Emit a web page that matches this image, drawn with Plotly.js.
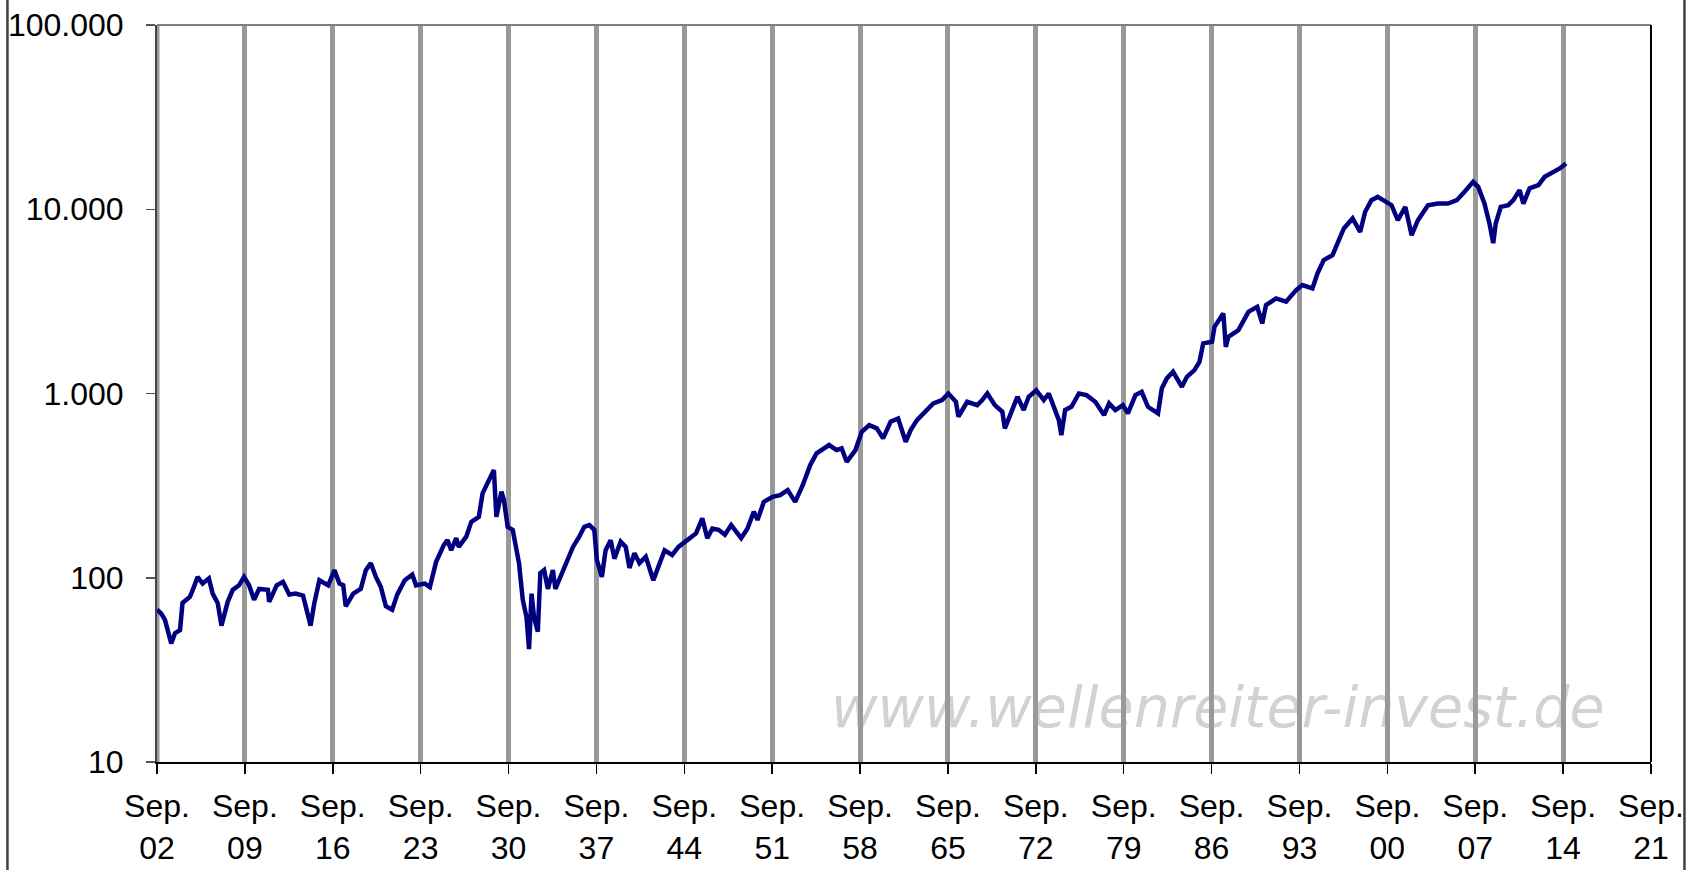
<!DOCTYPE html>
<html>
<head>
<meta charset="utf-8">
<script src="https://cdn.plot.ly/plotly-3.0.1.min.js"></script>
<style>
  html, body { margin: 0; padding: 0; background: #fff; }
  #chart { width: 1695px; height: 870px; }
</style>
</head>
<body>
<div id="chart"></div>
<script>
// Decimal years and index values
const years = [
  1902.67,1903.0,1903.3,1903.7,1903.8,1904.1,1904.5,1904.7,1905.3,1905.6,1905.9,1906.3,1906.8,1907.1,1907.5,1907.8,
  1908.0,1908.3,1908.7,1909.2,1909.6,1910.0,1910.4,1910.8,1911.5,1911.6,1912.2,1912.7,1913.2,1913.7,1914.3,1914.9,
  1915.2,1915.6,1916.3,1916.8,1917.2,1917.5,1917.7,1918.3,1918.9,1919.3,1919.7,1920.1,1920.5,1920.9,1921.4,1921.8,
  1922.4,1923.0,1923.3,1924.0,1924.4,1924.9,1925.5,1925.8,1926.1,1926.5,1926.7,1927.3,1927.7,1928.3,1928.6,1929.1,
  1929.5,1929.7,1930.1,1930.3,1930.6,1931.0,1931.4,1931.5,1931.8,1932.1,1932.3,1932.5,1932.7,1933.0,1933.2,1933.5,
  1933.8,1934.2,1934.4,1934.8,1935.2,1935.8,1936.3,1936.7,1937.1,1937.5,1937.7,1938.1,1938.4,1938.8,1939.1,1939.6,
  1940.0,1940.3,1940.7,1941.1,1941.6,1942.2,1942.5,1943.1,1943.7,1944.2,1944.9,1945.6,1946.1,1946.5,1946.9,1947.4,
  1947.9,1948.4,1948.8,1949.2,1949.7,1950.2,1950.5,1951.0,1951.7,1952.3,1952.9,1953.5,1954.1,1954.7,1955.2,1956.2,
  1956.8,1957.2,1957.6,1958.3,1958.8,1959.4,1960.0,1960.5,1961.1,1961.7,1962.3,1962.7,1963.2,1963.9,1964.5,1965.2,
  1965.7,1966.3,1966.5,1967.2,1968.0,1968.4,1968.8,1969.4,1970.0,1970.2,1970.8,1971.2,1971.7,1972.1,1972.7,1973.3,
  1973.7,1974.1,1974.5,1974.7,1975.0,1975.5,1976.1,1976.7,1977.4,1978.1,1978.5,1979.0,1979.6,1980.0,1980.6,1981.1,
  1981.6,1982.4,1982.7,1983.1,1983.6,1984.3,1984.7,1985.3,1985.7,1986.0,1986.7,1986.9,1987.6,1987.8,1988.0,1988.8,
  1989.2,1989.6,1990.3,1990.7,1991.0,1991.8,1992.6,1993.4,1993.9,1994.7,1995.1,1995.6,1996.3,1996.7,1997.2,1997.9,
  1998.5,1998.9,1999.4,1999.9,2000.5,2001.0,2001.5,2002.1,2002.6,2003.1,2003.9,2004.7,2005.5,2006.2,2006.8,2007.5,
  2007.9,2008.4,2008.8,2009.1,2009.3,2009.7,2010.3,2010.7,2011.2,2011.5,2012.0,2012.7,2013.2,2013.9,2014.4,2014.9
];
const values = [
  67,64,59,46,44,50,52,73,79,89,101,93,99,82,73,55,
  61,74,86,91,101,91,76,87,86,74,91,95,81,82,80,55,
  73,97,91,110,93,91,70,82,87,110,120,101,89,70,67,81,
  97,104,91,93,89,122,150,160,141,164,147,167,201,214,287,332,
  384,214,293,264,189,182,136,120,76,61,41,82,61,51,106,110,
  87,110,87,101,120,147,167,189,193,182,125,101,141,160,127,157,
  147,113,136,120,130,97,110,141,133,147,160,174,210,164,185,182,
  171,193,178,164,185,228,206,258,275,281,299,258,318,409,473,525,
  493,504,426,493,620,674,647,571,702,732,547,633,717,796,884,921,
  1000,902,748,902,865,921,1000,865,796,647,830,960,813,960,1042,921,
  1000,830,717,594,813,847,1000,980,902,764,884,813,865,780,980,1021,
  847,780,1066,1208,1312,1087,1232,1339,1486,1870,1909,2303,2722,1790,2030,2208,
  2500,2775,2955,2400,3017,3281,3150,3640,3875,3718,4484,5297,5636,6515,7863,8913,
  7530,9690,11200,11670,10960,10520,8720,10300,7230,8720,10520,10740,10740,11200,12420,14080,
  13230,10740,8370,6550,8370,10300,10520,11200,12700,10740,12980,13510,15000,15960,16650,17700
];

// X axis ticks: September of every 7th year
const tickYears = [1902,1909,1916,1923,1930,1937,1944,1951,1958,1965,1972,1979,1986,1993,2000,2007,2014,2021];
const tickLabels = tickYears.map(y => 'Sep.<br>' + String(y % 100).padStart(2, '0'));
const tickPos = tickYears.map(y => y + 8/12);

// Y axis ticks (German thousands separator)
const yTickVals = [10, 100, 1000, 10000, 100000];
const yTickText = ['10', '100', '1.000', '10.000', '100.000'];

const watermark = 'www.wellenreiter-invest.de';

const trace = {
  x: years,
  y: values,
  type: 'scatter',
  mode: 'lines',
  line: { color: '#000080', width: 4.5 },
  hoverinfo: 'skip'
};

const layout = {
  width: 1695,
  height: 870,
  margin: { l: 157, r: 44, t: 25, b: 108, pad: 0 },
  paper_bgcolor: '#ffffff',
  plot_bgcolor: '#ffffff',
  showlegend: false,
  font: { family: 'Liberation Sans, Arial, sans-serif', size: 32, color: '#000' },
  xaxis: {
    type: 'linear',
    range: [tickPos[0], tickPos[tickPos.length - 1]],
    tickmode: 'array',
    tickvals: tickPos,
    ticktext: tickLabels,
    ticks: 'outside',
    ticklen: 10,
    tickwidth: 1.5,
    tickcolor: '#000',
    showline: true,
    linecolor: '#000',
    linewidth: 2,
    showgrid: true,
    gridcolor: '#999999',
    gridwidth: 5,
    zeroline: false,
    ticklabelstandoff: 5,
    tickfont: { size: 32 }
  },
  yaxis: {
    type: 'log',
    range: [1, 5],
    tickmode: 'array',
    tickvals: yTickVals,
    ticktext: yTickText,
    ticks: 'outside',
    ticklen: 9,
    tickwidth: 1.5,
    tickcolor: '#555',
    showline: true,
    linecolor: '#444',
    linewidth: 2,
    showgrid: false,
    zeroline: false,
    ticklabelstandoff: 16,
    tickfont: { size: 32 }
  },
  shapes: [
    { type: 'line', xref: 'x', yref: 'paper', x0: tickPos[0], x1: tickPos[0], y0: 0, y1: 1,
      layer: 'below', line: { color: '#999999', width: 5 } },
    { type: 'line', xref: 'paper', yref: 'paper', x0: 0, x1: 1, y0: 1, y1: 1,
      line: { color: '#808080', width: 2 } },
    { type: 'line', xref: 'paper', yref: 'paper', x0: 1, x1: 1, y0: 0, y1: 1,
      line: { color: '#000', width: 2 } },
    { type: 'line', xref: 'paper', yref: 'paper', x0: -0.1001, x1: -0.1001, y0: -0.2, y1: 1.1,
      line: { color: '#404040', width: 2.5 } },
    { type: 'line', xref: 'paper', yref: 'paper', x0: 1.0224, x1: 1.0224, y0: -0.2, y1: 1.1,
      line: { color: '#404040', width: 2.5 } },
    { type: 'rect', xref: 'paper', yref: 'paper', x0: 0.42, x1: 1.0, y0: 0.04, y1: 0.12,
      layer: 'below', line: { width: 0 }, fillcolor: 'rgba(0,0,0,0)',
      label: { text: watermark, textposition: 'middle center',
               font: { family: 'DejaVu Sans', size: 57, color: '#d2d2d2', style: 'italic' } } }
  ]
};

Plotly.newPlot('chart', [trace], layout, { displayModeBar: false, staticPlot: true });
</script>
</body>
</html>
